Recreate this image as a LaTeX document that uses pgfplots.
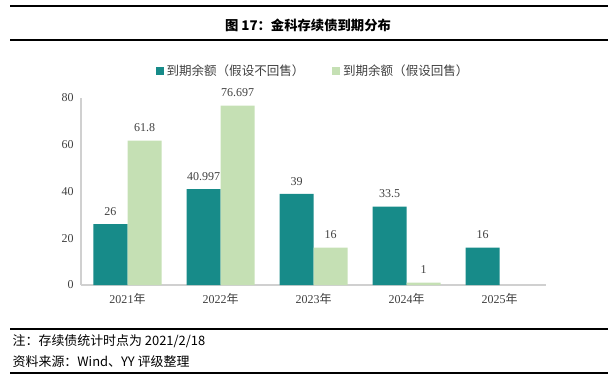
\documentclass[border=0pt]{standalone}
\usepackage{pgfplots}
\pgfplotsset{compat=1.18}
\usepackage{fontspec}
\setmainfont{Liberation Serif}
\newfontfamily\cjk{Noto Sans CJK SC}
\definecolor{teal1}{HTML}{178B89}
\definecolor{green1}{HTML}{C5E0B4}
\definecolor{txt}{HTML}{404040}
\definecolor{axgray}{HTML}{D0D0D0}
\begin{document}
\begin{tikzpicture}[x=0.75pt,y=0.75pt]
\path (0,0) rectangle (610,379);
\begin{axis}[
  at={(60.75pt,70.5pt)}, anchor=south west,
  width=348.75pt, height=140.25pt, scale only axis,
  ybar=0pt, bar width=25.5pt,
  xmin=-0.5, xmax=4.5, ymin=0, ymax=80,
  xtick={0,1,2,3,4},
  xticklabels={2021{\cjk 年},2022{\cjk 年},2023{\cjk 年},2024{\cjk 年},2025{\cjk 年}},
  ytick={0,20,40,60,80},
  axis x line*=bottom, axis y line*=left,
  x axis line style={-, draw=axgray, line width=1.5pt},
  y axis line style={-, draw=axgray, line width=1.1pt},
  major tick length=0pt,
  tick label style={font=\fontsize{9}{10}\selectfont, text=txt},
  /pgf/number format/assume math mode=true,
  yticklabel style={xshift=-2pt},
  xticklabel style={yshift=-3pt},
  nodes near coords={\pgfmathprintnumber[precision=3]{\pgfplotspointmeta}},
  every node near coord/.append style={font=\fontsize{9}{10}\selectfont, text=txt, yshift=3pt},
  legend columns=2,
  legend style={at={(0.5,1)}, anchor=center, yshift=20.25pt, xshift=0pt, draw=none, fill=none,
    font=\cjk\fontsize{9.4}{11}\selectfont, text=txt, inner xsep=2pt,
    /tikz/every even column/.append style={column sep=19pt}},
  legend image code/.code={\fill[#1] (0pt,-3pt) rectangle (6pt,3pt);},
]
\addplot[fill=teal1, draw=none] coordinates {(0,26) (1,40.997) (2,39) (3,33.5) (4,16)};
\addplot[fill=green1, draw=none] coordinates {(0,61.8) (1,76.697) (2,16) (3,1)};
\legend{到期余额（假设不回售）,到期余额（假设回售）}
\end{axis}
\draw[line width=1pt] (10,373) -- (608,373);
\draw[line width=1pt] (10,339) -- (608,339);
\node[font=\cjk\bfseries\fontsize{10}{11}\selectfont] at (308,354) {图 17：金科存续债到期分布};
\draw[line width=1pt] (10,50) -- (608,50);
\node[font=\cjk\fontsize{9.7}{11}\selectfont, anchor=west] at (8,38) {注：存续债统计时点为 2021/2/18};
\node[font=\cjk\fontsize{9.7}{11}\selectfont, anchor=west] at (8,17) {资料来源：Wind、YY 评级整理};
\draw[line width=1pt] (10,6) -- (608,6);
\end{tikzpicture}
\end{document}
